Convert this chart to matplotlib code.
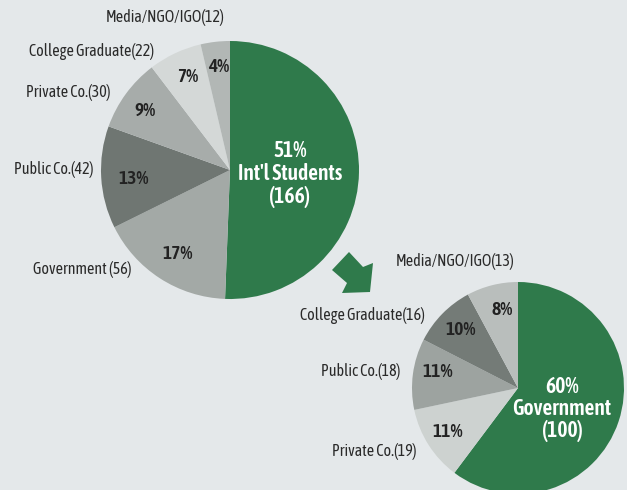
import matplotlib
matplotlib.use("Agg")
import matplotlib.pyplot as plt
from matplotlib.font_manager import fontManager

# pick a condensed sans (preferably one with a bold face)
fams = {}
for f in fontManager.ttflist:
    n = f.name
    if ("Narrow" in n or "Condensed" in n) and "Mono" not in n and "Serif" not in n:
        w = f.weight if isinstance(f.weight, int) else (700 if "bold" in str(f.weight) else 400)
        fams.setdefault(n, set()).add(w)
cond = None
for n, ws in sorted(fams.items()):
    if any(w >= 600 for w in ws) and any(w <= 500 for w in ws):
        cond = n
        break
if cond is None and fams:
    cond = sorted(fams)[0]
if cond is None:
    cond = "Liberation Sans"
plt.rcParams['font.family'] = [cond, "DejaVu Sans"]

# ---- data ----
cats1 = ["Int'l Students", "Government", "Public Co.", "Private Co.", "College Graduate", "Media/NGO/IGO"]
vals1 = [166, 56, 42, 30, 22, 12]
pcts1 = [51, 17, 13, 9, 7, 4]
cols1 = ["#2f7a4b", "#a3a9a6", "#6f7672", "#a7acaa", "#d4d8d7", "#b2b7b5"]

cats2 = ["Government", "Private Co.", "Public Co.", "College Graduate", "Media/NGO/IGO"]
vals2 = [100, 19, 18, 16, 13]
pcts2 = [60, 11, 11, 10, 8]
cols2 = ["#2f7a4b", "#cdd2d0", "#9da3a0", "#747b77", "#b9bebc"]

W, H = 627, 490
BG = "#e4e8ea"
fig = plt.figure(figsize=(W / 100, H / 100), dpi=100, facecolor=BG)
ax = fig.add_axes([0, 0, 1, 1])
ax.set_facecolor(BG)

def Y(y):
    return H - y

# pies
ax.pie(vals1, colors=cols1, startangle=90, counterclock=False,
       center=(230, Y(170)), radius=129, wedgeprops=dict(linewidth=0))
ax.pie(vals2, colors=cols2, startangle=90, counterclock=False,
       center=(518, Y(388)), radius=106, wedgeprops=dict(linewidth=0))
ax.set_xlim(0, W)
ax.set_ylim(0, H)
ax.set_aspect("equal")
ax.axis("off")

# arrow
arrow = [(332, 270), (349, 252), (363, 267), (373, 263), (370, 292), (342, 293), (347, 283)]
ax.add_patch(plt.Polygon([(x, Y(y)) for x, y in arrow], closed=True, color="#2f7a4b", lw=0))

LBL = dict(fontsize=11.5, color="#2a2a2a", ha="center", va="center")
PCT = dict(fontsize=14, color="#222222", ha="center", va="center", fontweight="semibold")
BIG = dict(fontsize=15.5, color="white", ha="center", va="center", fontweight="semibold")

# pie 1 labels
ax.text(165, Y(18), f"{cats1[5]}({vals1[5]})", **LBL)
ax.text(92, Y(52), f"{cats1[4]}({vals1[4]})", **LBL)
ax.text(68, Y(93), f"{cats1[3]}({vals1[3]})", **LBL)
ax.text(54, Y(170), f"{cats1[2]}({vals1[2]})", **LBL)
ax.text(82, Y(270), f"{cats1[1]} ({vals1[1]})", **LBL)

ax.text(219, Y(67), f"{pcts1[5]}%", **PCT)
ax.text(188, Y(77), f"{pcts1[4]}%", **PCT)
ax.text(145, Y(111), f"{pcts1[3]}%", **PCT)
ax.text(134, Y(179), f"{pcts1[2]}%", **PCT)
ax.text(178, Y(254), f"{pcts1[1]}%", **PCT)
ax.text(290, Y(151), f"{pcts1[0]}%", **BIG)
ax.text(290, Y(174), cats1[0], **BIG)
ax.text(290, Y(197), f"({vals1[0]})", **BIG)

# pie 2 labels
ax.text(455, Y(262), f"{cats2[4]}({vals2[4]})", **LBL)
ax.text(362, Y(315), f"{cats2[3]}({vals2[3]})", **LBL)
ax.text(361, Y(371), f"{cats2[2]}({vals2[2]})", **LBL)
ax.text(374, Y(451), f"{cats2[1]}({vals2[1]})", **LBL)

ax.text(502, Y(310), f"{pcts2[4]}%", **PCT)
ax.text(461, Y(330), f"{pcts2[3]}%", **PCT)
ax.text(438, Y(372), f"{pcts2[2]}%", **PCT)
ax.text(448, Y(432), f"{pcts2[1]}%", **PCT)
ax.text(562, Y(387), f"{pcts2[0]}%", **BIG)
ax.text(562, Y(409), cats2[0], **BIG)
ax.text(562, Y(431), f"({vals2[0]})", **BIG)

fig.savefig("out.png", dpi=100, facecolor=BG)
